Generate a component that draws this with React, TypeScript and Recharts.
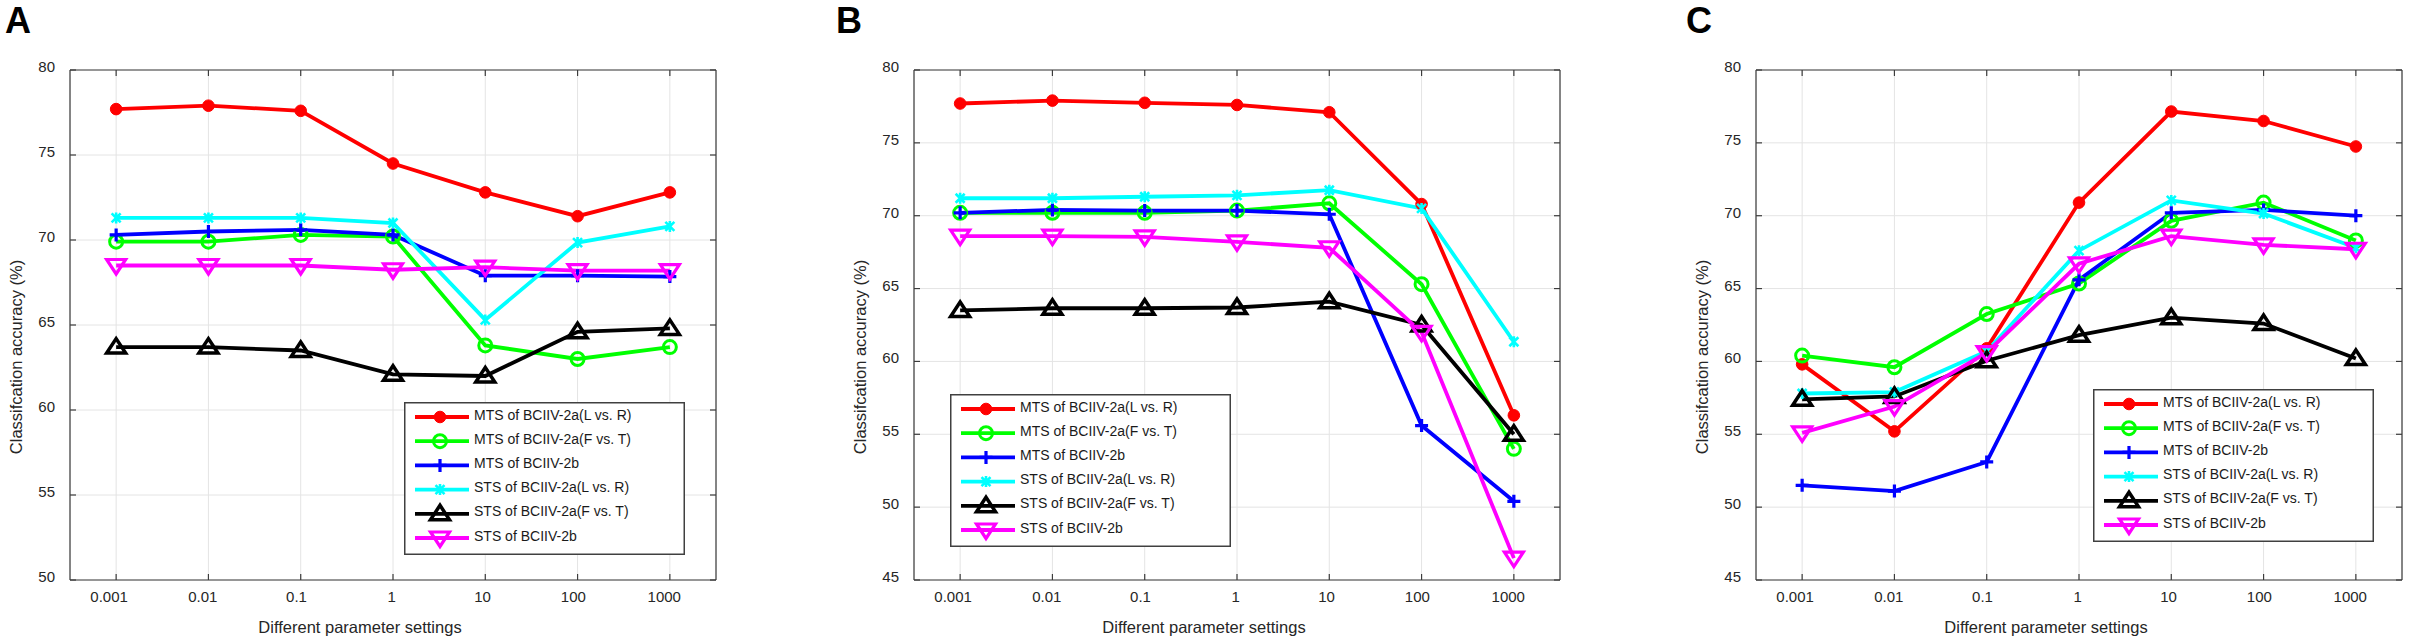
import { CartesianGrid, Legend, Line, LineChart, XAxis, YAxis } from 'recharts';

// x positions are categories
const paramLabels = ['0.001', '0.01', '0.1', '1', '10', '100', '1000'];
const seriesNames = [
  'MTS of BCIIV-2a(L vs. R)',
  'MTS of BCIIV-2a(F vs. T)',
  'MTS of BCIIV-2b',
  'STS of BCIIV-2a(L vs. R)',
  'STS of BCIIV-2a(F vs. T)',
  'STS of BCIIV-2b',
];
const seriesColors = ['#ff0000', '#00ff00', '#0000ff', '#00ffff', '#000000', '#ff00ff'];
const seriesMarkers = ['dot', 'circle', 'plus', 'star', 'triangle', 'triangleDown'];

// panel A
const aMtsLR = [77.7, 77.9, 77.6, 74.5, 72.8, 71.4, 72.8];
const aMtsFT = [69.9, 69.9, 70.3, 70.2, 63.8, 63.0, 63.7];
const aMts2b = [70.3, 70.5, 70.6, 70.3, 67.9, 67.9, 67.85];
const aStsLR = [71.3, 71.3, 71.3, 71.0, 65.3, 69.85, 70.8];
const aStsFT = [63.7, 63.7, 63.5, 62.1, 62.0, 64.6, 64.8];
const aSts2b = [68.5, 68.5, 68.5, 68.25, 68.4, 68.2, 68.2];

// panel B
const bMtsLR = [77.7, 77.9, 77.75, 77.6, 77.1, 70.8, 56.3];
const bMtsFT = [70.2, 70.2, 70.2, 70.35, 70.85, 65.3, 54.0];
const bMts2b = [70.2, 70.4, 70.35, 70.35, 70.1, 55.6, 50.4];
const bStsLR = [71.2, 71.2, 71.3, 71.4, 71.75, 70.5, 61.35];
const bStsFT = [63.5, 63.65, 63.65, 63.7, 64.1, 62.5, 55.0];
const bSts2b = [68.6, 68.6, 68.55, 68.2, 67.8, 62.0, 46.5];

// panel C
const cMtsLR = [59.8, 55.2, 60.9, 70.9, 77.15, 76.5, 74.75];
const cMtsFT = [60.4, 59.6, 63.25, 65.35, 69.65, 70.9, 68.3];
const cMts2b = [51.5, 51.1, 53.1, 65.6, 70.2, 70.4, 70.0];
const cStsLR = [57.8, 57.9, 60.7, 67.6, 71.05, 70.15, 67.8];
const cStsFT = [57.4, 57.6, 60.05, 61.8, 63.0, 62.6, 60.2];
const cSts2b = [55.1, 56.9, 60.6, 66.7, 68.6, 68.0, 67.7];

const ticksA = [50, 55, 60, 65, 70, 75, 80];
const ticksBC = [45, 50, 55, 60, 65, 70, 75, 80];
const xTicks = [0, 1, 2, 3, 4, 5, 6];

const FONT = '"Liberation Sans", Arial, sans-serif';
const AXIS = '#3c3c3c';
const INK = '#262626';
// plot box inside each chart svg
const PL = 70;
const PR = 716;
const PT = 70;
const PB = 580;

function Marker({ cx, cy, kind, color }: any) {
  if (cx == null || cy == null) return null;
  switch (kind) {
    case 'dot':
      return <circle cx={cx} cy={cy} r={5.8} fill={color} stroke={color} strokeWidth={1} />;
    case 'circle':
      return <circle cx={cx} cy={cy} r={6.5} fill="none" stroke={color} strokeWidth={3} />;
    case 'plus':
      return (
        <path
          d={`M${cx - 6.5},${cy}H${cx + 6.5}M${cx},${cy - 6.5}V${cy + 6.5}`}
          stroke={color}
          strokeWidth={3.2}
          fill="none"
        />
      );
    case 'star':
      return (
        <path
          d={`M${cx - 4.5},${cy - 4.5}L${cx + 4.5},${cy + 4.5}M${cx - 4.5},${cy + 4.5}L${cx + 4.5},${cy - 4.5}M${cx},${cy - 5.5}V${cy + 5.5}`}
          stroke={color}
          strokeWidth={2.6}
          fill="none"
        />
      );
    case 'triangle':
      return (
        <path
          d={`M${cx},${cy - 8.5}L${cx + 9.5},${cy + 6}L${cx - 9.5},${cy + 6}Z`}
          stroke={color}
          strokeWidth={3.5}
          fill="none"
        />
      );
    default:
      return (
        <path
          d={`M${cx - 9.5},${cy - 6}L${cx + 9.5},${cy - 6}L${cx},${cy + 8.5}Z`}
          stroke={color}
          strokeWidth={3.2}
          fill="none"
        />
      );
  }
}

function BottomTick({ x, payload }: any) {
  const label = paramLabels[payload.value] ?? '';
  return (
    <g>
      <line x1={x} x2={x} y1={PB} y2={PB - 6} stroke={AXIS} strokeWidth={1.2} />
      <text
        x={x}
        y={PB + 22}
        dx={-1.4 * label.length}
        textAnchor="middle"
        fontSize={15}
        fill={INK}
        fontFamily={FONT}
      >
        {label}
      </text>
    </g>
  );
}

function TopTick({ x }: any) {
  return <line x1={x} x2={x} y1={PT} y2={PT + 6} stroke={AXIS} strokeWidth={1.2} />;
}

function LeftTick({ y, payload }: any) {
  return (
    <g>
      <line x1={PL} x2={PL + 6} y1={y} y2={y} stroke={AXIS} strokeWidth={1.2} />
      <text x={PL - 15} y={y + 2} textAnchor="end" fontSize={15} fill={INK} fontFamily={FONT}>
        {payload.value}
      </text>
    </g>
  );
}

function RightTick({ y }: any) {
  return <line x1={PR} x2={PR - 6} y1={y} y2={y} stroke={AXIS} strokeWidth={1.2} />;
}

function XTitle() {
  return (
    <text x={360} y={633} textAnchor="middle" fontSize={16.5} fill={INK} fontFamily={FONT}>
      Different parameter settings
    </text>
  );
}

function YTitle() {
  return (
    <text
      x={16}
      y={357}
      transform="rotate(-90 16 357)"
      textAnchor="middle"
      dominantBaseline="central"
      fontSize={16.5}
      fill={INK}
      fontFamily={FONT}
    >
      Classifcation accuracy (%)
    </text>
  );
}

function LegendBox({ payload }: any) {
  const items = [...(payload ?? [])].sort(
    (p: any, q: any) => seriesNames.indexOf(p.value) - seriesNames.indexOf(q.value),
  );
  return (
    <svg width={281} height={153} style={{ display: 'block' }}>
      <rect x={0.75} y={0.75} width={279.5} height={151.5} fill="#fff" stroke="#404040" strokeWidth={1.5} />
      {items.map((item: any, k: number) => {
        const idx = seriesNames.indexOf(item.value);
        const color = seriesColors[idx];
        const y = 15 + k * 24.2;
        return (
          <g key={item.value}>
            <line x1={11} x2={65} y1={y} y2={y} stroke={color} strokeWidth={3.8} />
            <Marker cx={36} cy={y} kind={seriesMarkers[idx]} color={color} />
            <text x={70} y={y + 2.6} fontSize={14} fill="#1a1a1a" fontFamily={FONT}>
              {item.value}
            </text>
          </g>
        );
      })}
    </svg>
  );
}

interface PanelProps {
  left: number;
  series: number[][];
  yTicks: number[];
  legendX: number;
  legendY: number;
}

function Panel({ left, series, yTicks, legendX, legendY }: PanelProps) {
  const rows = paramLabels.map((_, i) => {
    const r: Record<string, number> = { i };
    series.forEach((arr, k) => {
      r[`s${k}`] = arr[i];
    });
    return r;
  });
  const yDomain = [yTicks[0], yTicks[yTicks.length - 1]];

  return (
    <div style={{ position: 'absolute', left, top: 0 }}>
      <LineChart width={724} height={643} data={rows} margin={{ top: 60, right: 2, bottom: 0, left: 10 }}>
        <CartesianGrid xAxisId="b" yAxisId="l" stroke="#e4e4e4" strokeWidth={1} />
        <XAxis
          xAxisId="b"
          dataKey="i"
          type="number"
          domain={[-0.5, 6.5]}
          ticks={xTicks}
          interval={0}
          height={63}
          tickLine={false}
          tickSize={0}
          axisLine={{ stroke: AXIS, strokeWidth: 1.2 }}
          tick={<BottomTick />}
          label={<XTitle />}
        />
        <XAxis
          xAxisId="t"
          orientation="top"
          dataKey="i"
          type="number"
          domain={[-0.5, 6.5]}
          ticks={xTicks}
          interval={0}
          height={10}
          allowDataOverflow
          tickLine={false}
          tickSize={0}
          axisLine={{ stroke: AXIS, strokeWidth: 1.2 }}
          tick={<TopTick />}
        />
        <YAxis
          yAxisId="l"
          type="number"
          domain={yDomain}
          ticks={yTicks}
          interval={0}
          width={60}
          allowDataOverflow
          tickLine={false}
          tickSize={0}
          axisLine={{ stroke: AXIS, strokeWidth: 1.2 }}
          tick={<LeftTick />}
          label={<YTitle />}
        />
        <YAxis
          yAxisId="r"
          orientation="right"
          type="number"
          domain={yDomain}
          ticks={yTicks}
          interval={0}
          width={6}
          allowDataOverflow
          tickLine={false}
          tickSize={0}
          axisLine={{ stroke: AXIS, strokeWidth: 1.2 }}
          tick={<RightTick />}
        />
        <Legend
          layout="vertical"
          align="center"
          verticalAlign="middle"
          content={<LegendBox />}
          wrapperStyle={{ left: legendX, top: legendY, width: 281, height: 153 }}
        />
        {seriesNames.map((name, k) => (
          <Line
            key={name}
            xAxisId="b"
            yAxisId="l"
            dataKey={`s${k}`}
            name={name}
            stroke={seriesColors[k]}
            strokeWidth={3.8}
            isAnimationActive={false}
            activeDot={false}
            dot={(p: any) => (
              <Marker key={`${name}-${p.index}`} cx={p.cx} cy={p.cy} kind={seriesMarkers[k]} color={seriesColors[k]} />
            )}
          />
        ))}
      </LineChart>
    </div>
  );
}

export default function App() {
  return (
    <div
      style={{
        position: 'absolute',
        left: 0,
        top: 0,
        width: 2410,
        height: 643,
        background: '#fff',
        fontFamily: FONT,
        overflow: 'hidden',
      }}
    >
      <Panel left={0} series={[aMtsLR, aMtsFT, aMts2b, aStsLR, aStsFT, aSts2b]} yTicks={ticksA} legendX={404} legendY={402} />
      <Panel left={844} series={[bMtsLR, bMtsFT, bMts2b, bStsLR, bStsFT, bSts2b]} yTicks={ticksBC} legendX={106} legendY={394} />
      <Panel left={1686} series={[cMtsLR, cMtsFT, cMts2b, cStsLR, cStsFT, cSts2b]} yTicks={ticksBC} legendX={407} legendY={389} />
      <svg width={2410} height={643} style={{ position: 'absolute', left: 0, top: 0, pointerEvents: 'none' }}>
        <text x={5} y={33} fontSize={36} fontWeight="bold" fontFamily={FONT} fill="#000">A</text>
        <text x={836} y={33} fontSize={36} fontWeight="bold" fontFamily={FONT} fill="#000">B</text>
        <text x={1686} y={33} fontSize={36} fontWeight="bold" fontFamily={FONT} fill="#000">C</text>
      </svg>
    </div>
  );
}
